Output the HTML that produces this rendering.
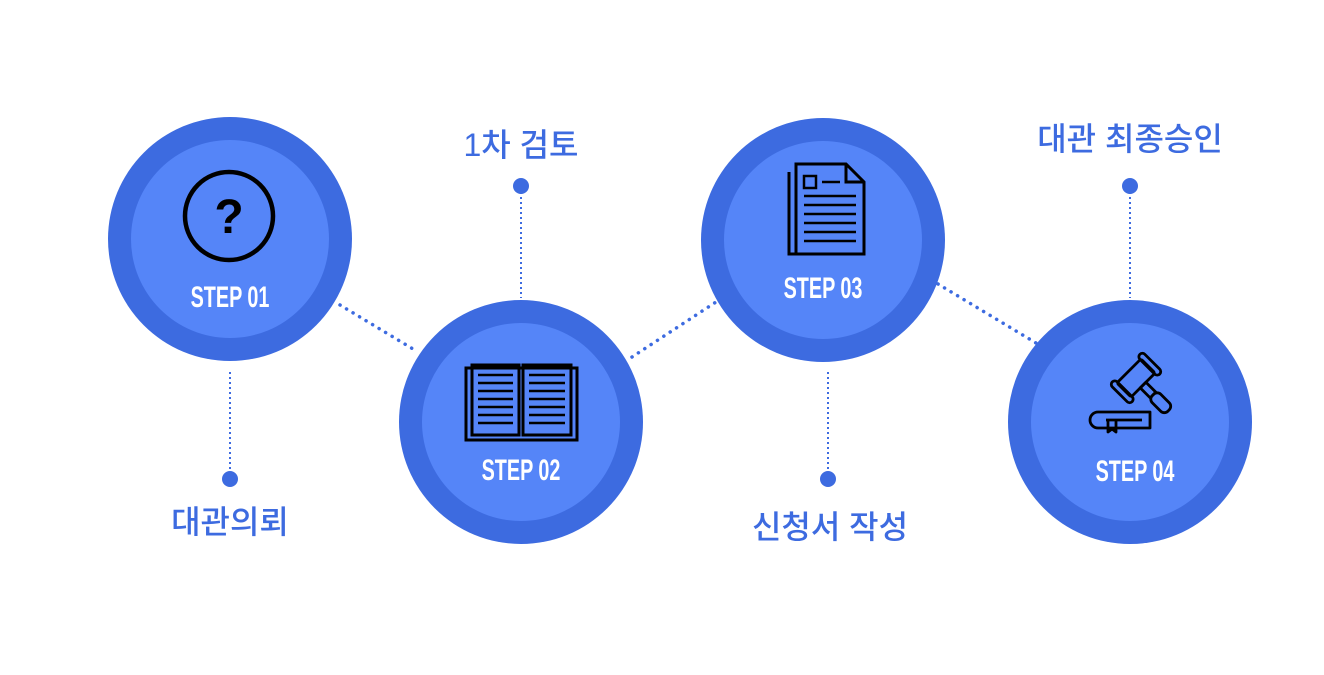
<!DOCTYPE html>
<html><head><meta charset="utf-8"><style>
html,body{margin:0;padding:0;background:#fff;}
body{width:1324px;height:670px;overflow:hidden;}
</style></head><body>
<svg width="1324" height="670" viewBox="0 0 1324 670" xmlns="http://www.w3.org/2000/svg">
<g stroke="#3d6be0" stroke-width="3.5" stroke-dasharray="0.1 7.5" stroke-linecap="round" fill="none">
<line x1="340" y1="305" x2="418" y2="352"/>
<line x1="632" y1="357" x2="716" y2="302"/>
<line x1="938" y1="284" x2="1036" y2="343"/>
</g>
<g stroke="#3d6be0" stroke-width="2" stroke-dasharray="2 3" fill="none">
<line x1="230" y1="372" x2="230" y2="472"/>
<line x1="521" y1="192" x2="521" y2="298"/>
<line x1="828" y1="372" x2="828" y2="472"/>
<line x1="1130" y1="192" x2="1130" y2="298"/>
</g>
<g fill="#3d6be0">
<circle cx="230" cy="479" r="8"/>
<circle cx="521" cy="186" r="8"/>
<circle cx="828" cy="479" r="8"/>
<circle cx="1130" cy="186" r="8"/>
</g>
<g>
<circle cx="230" cy="239" r="122" fill="#3d6be0"/><circle cx="230" cy="239" r="99" fill="#5585f8"/>
<circle cx="521" cy="422" r="122" fill="#3d6be0"/><circle cx="521" cy="422" r="99" fill="#5585f8"/>
<circle cx="823" cy="240" r="122" fill="#3d6be0"/><circle cx="823" cy="240" r="99" fill="#5585f8"/>
<circle cx="1130" cy="422" r="122" fill="#3d6be0"/><circle cx="1130" cy="422" r="99" fill="#5585f8"/>
</g>
<g fill="none" stroke="#000" stroke-width="4.5">
<circle cx="229" cy="216" r="44"/>
</g>
<text x="229" y="233" font-family="Liberation Sans, sans-serif" font-weight="bold" font-size="48" text-anchor="middle" fill="#000">?</text>
<g fill="none" stroke="#000" stroke-width="3">
<rect x="466" y="368" width="111" height="72"/>
<rect x="472" y="365" width="47" height="70"/>
<rect x="523" y="365" width="48" height="70"/>
<path d="M478 375h35M478 383h35M478 391h35M478 399h35M478 407h35M478 415h35M478 423h35M529 375h36M529 383h36M529 391h36M529 399h36M529 407h36M529 415h36M529 423h36" stroke-width="2.5"/>
</g>
<g fill="none" stroke="#000" stroke-width="3">
<path d="M789 172v82h66"/>
<path d="M796 164h50l18 18v72h-68z" fill="#5585f8"/>
<path d="M846 164v18h18"/>
<rect x="804" y="176" width="12" height="12" stroke-width="2.5"/>
<path d="M822 182h18M804 196h52M804 205h52M804 214h52M804 223h52M804 232h52M804 241h52" stroke-width="2.5"/>
</g>
<g fill="none" stroke="#000" stroke-width="2.8" stroke-linejoin="round">
<g transform="translate(1136 378) rotate(45)">
<rect x="-10" y="-17" width="20" height="34" rx="2"/>
<rect x="-14" y="-23" width="28" height="7" rx="3.5"/>
<rect x="-14" y="16" width="28" height="7" rx="3.5"/>
<rect x="10" y="-4" width="14" height="8"/>
<rect x="24" y="-6" width="22" height="12" rx="5"/>
</g>
<path d="M1098 412h52v16h-52a8 8 0 0 1 0-16z"/>
<path d="M1106 420h36"/>
<path d="M1108 420v12l4-3 4 3v-12"/>
</g>
<g font-family="Liberation Sans Narrow, Liberation Sans, sans-serif" font-size="30" font-weight="bold" fill="#fff" text-anchor="middle">
<text transform="translate(230 307) scale(0.66 1)">STEP 01</text>
<text transform="translate(521 480) scale(0.66 1)">STEP 02</text>
<text transform="translate(823 298) scale(0.66 1)">STEP 03</text>
<text transform="translate(1135 481) scale(0.66 1)">STEP 04</text>
</g>
<g font-family="Liberation Sans, 'Noto Sans CJK KR', sans-serif" font-size="32" font-weight="500" fill="#3d6be0" text-anchor="middle">
<text x="230" y="533">대관의뢰</text>
<text x="521" y="156">1차 검토</text>
<text x="830" y="538">신청서 작성</text>
<text x="1130" y="150">대관 최종승인</text>
</g>
</svg>
</body></html>
